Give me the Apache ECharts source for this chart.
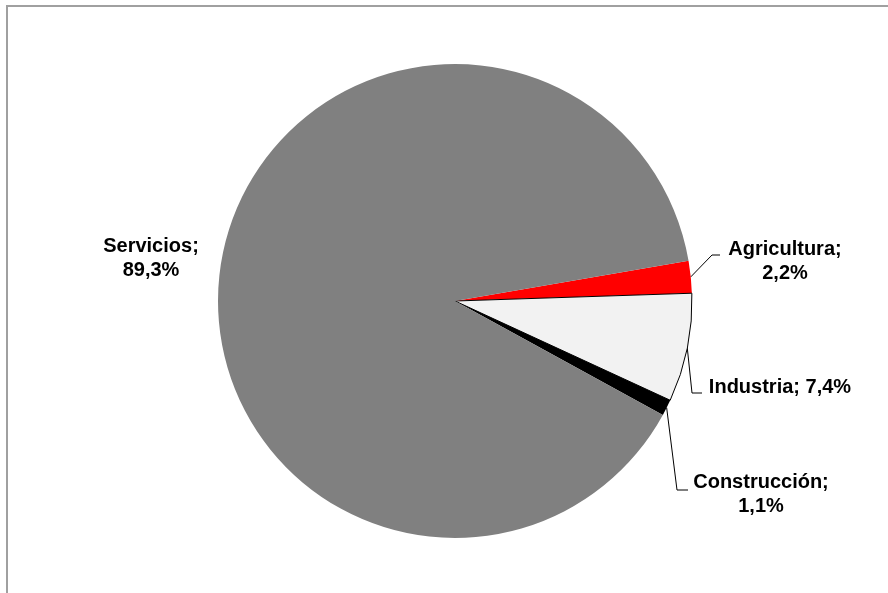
<!DOCTYPE html>
<html><head><meta charset="utf-8">
<script src="https://cdn.jsdelivr.net/npm/echarts@6/dist/echarts.min.js"></script>
<style>html,body{margin:0;padding:0;background:#fff}#c{width:888px;height:593px}</style>
</head><body><div id="c"></div>
<script>
const categories = ['Agricultura', 'Industria', 'Construcción', 'Servicios'];
const values = [2.2, 7.4, 1.1, 89.3];
const colors = ['#ff0000', '#f2f2f2', '#000000', '#808080'];
const twoLineLabel = [true, false, true, true];

// label layout (positions only, not data)
const labelPos = [{x: 785, y: 261}, {x: 780, y: 387}, {x: 761, y: 494}, {x: 151, y: 258}];
const elbows = [[[712, 255], [720, 255]], [[692, 393], [702, 393]], [[677, 490], [688, 490]], null];

const fmt = v => String(v).replace('.', ',') + '%';

const chart = echarts.init(document.getElementById('c'), null, {renderer: 'canvas'});
chart.setOption({
  backgroundColor: '#ffffff',
  animation: false,
  graphic: [{
    type: 'rect', shape: {x: 7, y: 6, width: 900, height: 600},
    style: {fill: 'none', stroke: '#a0a0a0', lineWidth: 2}, silent: true
  }],
  series: [{
    type: 'pie',
    center: [455, 301],
    radius: 237,
    startAngle: 9.8,
    clockwise: true,
    avoidLabelOverlap: false,
    label: {
      show: true,
      position: 'outside',
      fontFamily: 'Arial, "Liberation Sans", sans-serif',
      fontWeight: 'bold',
      fontSize: 20,
      lineHeight: 24,
      color: '#000',
      formatter: p => categories[p.dataIndex] + ';' + (twoLineLabel[p.dataIndex] ? '\n' : ' ') + fmt(values[p.dataIndex])
    },
    labelLine: {show: true, lineStyle: {color: '#000', width: 1}},
    labelLayout: function (params) {
      const i = params.dataIndex;
      const out = {x: labelPos[i].x, y: labelPos[i].y, align: 'center', verticalAlign: 'middle'};
      if (elbows[i] && params.labelLinePoints) {
        out.labelLinePoints = [params.labelLinePoints[0], elbows[i][0], elbows[i][1]];
      }
      return out;
    },
    data: categories.map((name, i) => ({
      name: name,
      value: values[i],
      itemStyle: i === 1 ? {color: colors[i], borderColor: '#000', borderWidth: 1} : {color: colors[i], borderWidth: 0},
      labelLine: {show: elbows[i] !== null}
    }))
  }]
});
</script>
</body></html>
